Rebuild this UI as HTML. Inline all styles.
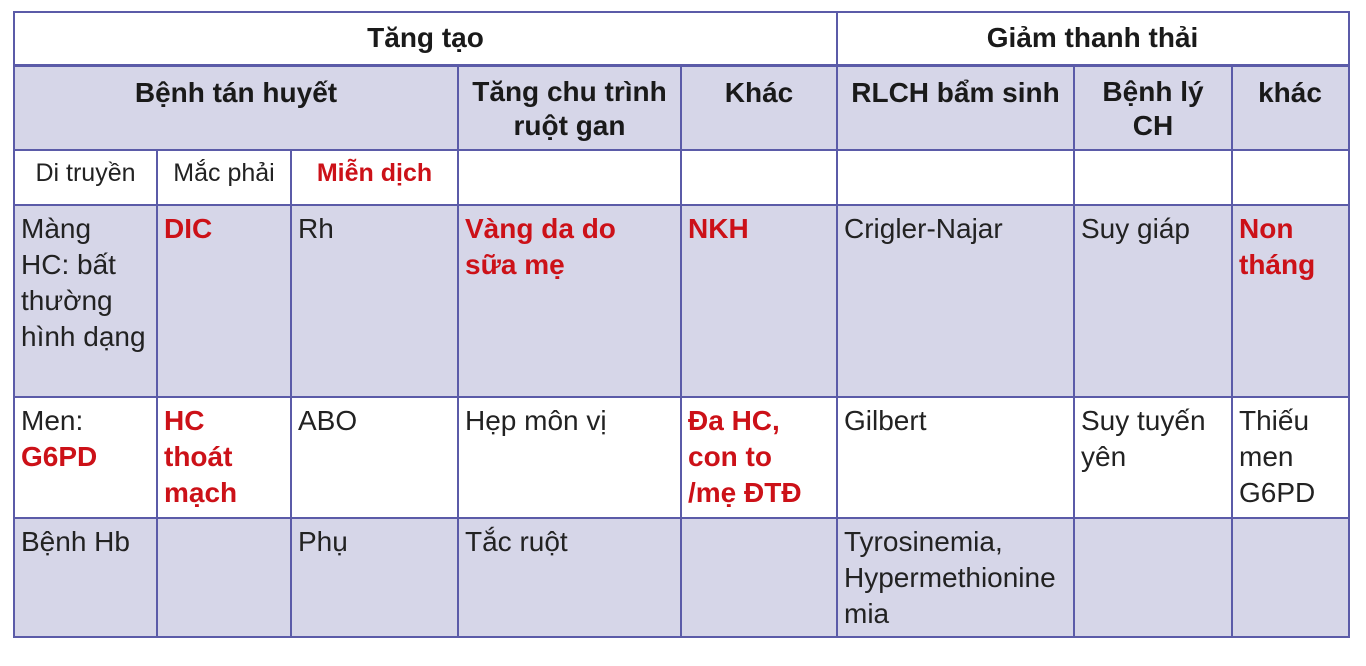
<!DOCTYPE html>
<html><head><meta charset="utf-8">
<style>
body{margin:0;width:1366px;height:666px;background:#fff;position:relative;overflow:hidden;font-family:"Liberation Sans",Arial,sans-serif;color:#222;}
.c{position:absolute;box-sizing:border-box;padding:6px 0 6px 7px;font-size:28px;line-height:36px;white-space:nowrap;}
.s{background:#d6d6e8;}
.h{font-weight:bold;text-align:center;color:#1a1a1a;padding-left:0;}
.r{color:#cc1118;font-weight:bold;}
.sm{font-size:25px;text-align:center;line-height:30px;padding:8px 0 0 0;}
.hl{position:absolute;height:2px;background:#5b5ba8;}
.vl{position:absolute;width:2px;background:#5b5ba8;}
</style></head><body>
<!-- row1 -->
<div class="c h" style="left:14px;top:12px;width:823px;height:53px;line-height:40px">Tăng tạo</div>
<div class="c h" style="left:837px;top:12px;width:511px;height:53px;line-height:40px">Giảm thanh thải</div>
<!-- row2 -->
<div class="c s h" style="left:14px;top:65px;width:444px;height:85px;padding-top:10px">Bệnh tán huyết</div>
<div class="c s h" style="left:458px;top:65px;width:223px;height:85px;padding-top:10px;line-height:34px">Tăng chu trình<br>ruột gan</div>
<div class="c s h" style="left:681px;top:65px;width:156px;height:85px;padding-top:10px">Khác</div>
<div class="c s h" style="left:837px;top:65px;width:237px;height:85px;padding-top:10px">RLCH bẩm sinh</div>
<div class="c s h" style="left:1074px;top:65px;width:158px;height:85px;padding-top:10px;line-height:34px">Bệnh lý<br>CH</div>
<div class="c s h" style="left:1232px;top:65px;width:116px;height:85px;padding-top:10px">khác</div>
<!-- row3 -->
<div class="c sm" style="left:14px;top:150px;width:143px;height:55px">Di truyền</div>
<div class="c sm" style="left:157px;top:150px;width:134px;height:55px">Mắc phải</div>
<div class="c sm r" style="left:291px;top:150px;width:167px;height:55px">Miễn dịch</div>
<!-- row4 -->
<div class="c s" style="left:14px;top:205px;width:1334px;height:192px"></div>
<div class="c" style="left:14px;top:205px;width:143px">Màng<br>HC: bất<br>thường<br>hình dạng</div>
<div class="c r" style="left:157px;top:205px;width:134px">DIC</div>
<div class="c" style="left:291px;top:205px;width:167px">Rh</div>
<div class="c r" style="left:458px;top:205px;width:223px">Vàng da do<br>sữa mẹ</div>
<div class="c r" style="left:681px;top:205px;width:156px">NKH</div>
<div class="c" style="left:837px;top:205px;width:237px">Crigler-Najar</div>
<div class="c" style="left:1074px;top:205px;width:158px">Suy giáp</div>
<div class="c r" style="left:1232px;top:205px;width:116px">Non<br>tháng</div>
<!-- row5 -->
<div class="c" style="left:14px;top:397px;width:143px">Men:<br><span class="r">G6PD</span></div>
<div class="c r" style="left:157px;top:397px;width:134px">HC<br>thoát<br>mạch</div>
<div class="c" style="left:291px;top:397px;width:167px">ABO</div>
<div class="c" style="left:458px;top:397px;width:223px">Hẹp môn vị</div>
<div class="c r" style="left:681px;top:397px;width:156px">Đa HC,<br>con to<br>/mẹ ĐTĐ</div>
<div class="c" style="left:837px;top:397px;width:237px">Gilbert</div>
<div class="c" style="left:1074px;top:397px;width:158px">Suy tuyến<br>yên</div>
<div class="c" style="left:1232px;top:397px;width:116px">Thiếu<br>men<br>G6PD</div>
<!-- row6 -->
<div class="c s" style="left:14px;top:518px;width:1334px;height:119px"></div>
<div class="c" style="left:14px;top:518px;width:143px">Bệnh Hb</div>
<div class="c" style="left:291px;top:518px;width:167px">Phụ</div>
<div class="c" style="left:458px;top:518px;width:223px">Tắc ruột</div>
<div class="c" style="left:837px;top:518px;width:237px">Tyrosinemia,<br>Hypermethionine<br>mia</div>
<!-- grid lines -->
<div class="hl" style="left:13px;top:11px;width:1337px"></div>
<div class="hl" style="left:13px;top:64px;width:1337px;height:3px"></div>
<div class="hl" style="left:13px;top:149px;width:1337px"></div>
<div class="hl" style="left:13px;top:204px;width:1337px"></div>
<div class="hl" style="left:13px;top:396px;width:1337px"></div>
<div class="hl" style="left:13px;top:517px;width:1337px"></div>
<div class="hl" style="left:13px;top:636px;width:1337px"></div>
<div class="vl" style="left:13px;top:11px;height:627px"></div>
<div class="vl" style="left:1348px;top:11px;height:627px"></div>
<div class="vl" style="left:836px;top:11px;height:627px"></div>
<div class="vl" style="left:457px;top:65px;height:573px"></div>
<div class="vl" style="left:680px;top:65px;height:573px"></div>
<div class="vl" style="left:1073px;top:65px;height:573px"></div>
<div class="vl" style="left:1231px;top:65px;height:573px"></div>
<div class="vl" style="left:156px;top:150px;height:488px"></div>
<div class="vl" style="left:290px;top:150px;height:488px"></div>
</body></html>
